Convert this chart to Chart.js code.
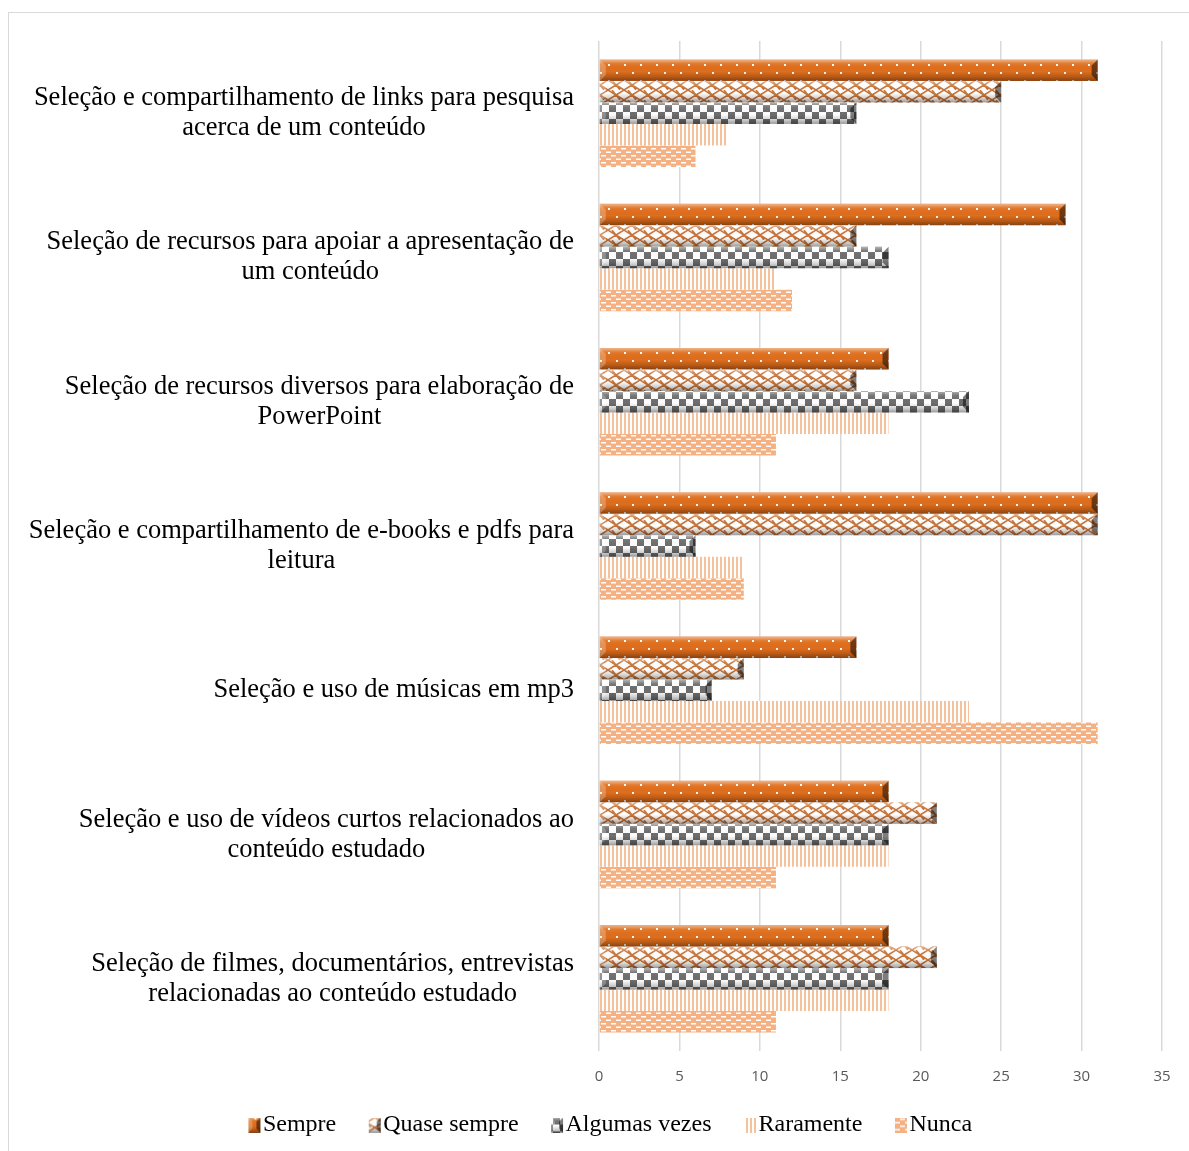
<!DOCTYPE html>
<html>
<head>
<meta charset="utf-8">
<script src="https://cdn.jsdelivr.net/npm/chart.js@4"></script>
<style>
    html, body { margin: 0; padding: 0; background: #fff; }
    #wrap { position: relative; width: 1189px; height: 1151px; }
    #frame { position: absolute; left: 8px; top: 12px; width: 1200px; height: 1200px; border: 1px solid #d9d9d9; box-sizing: border-box; }
    #chart { position: absolute; left: 0; top: 0; }
</style>
</head>
<body>
<div id="wrap">
    <div id="frame"></div>
    <canvas id="chart" width="1189" height="1151"></canvas>
</div>
<script>
// Categorias (linhas já quebradas como no gráfico)
const categorias = [
    ['Seleção e compartilhamento de links para pesquisa', 'acerca de um conteúdo'],
    ['Seleção de recursos para apoiar a apresentação de', 'um conteúdo'],
    ['Seleção de recursos diversos para elaboração de', 'PowerPoint'],
    ['Seleção e compartilhamento de e-books e pdfs para', 'leitura'],
    ['Seleção e uso de músicas em mp3'],
    ['Seleção e uso de vídeos curtos relacionados ao', 'conteúdo estudado'],
    ['Seleção de filmes, documentários, entrevistas', 'relacionadas ao conteúdo estudado']
];

const sempre        = [31, 29, 18, 31, 16, 18, 18];
const quaseSempre   = [25, 16, 16, 31, 9, 21, 21];
const algumasVezes  = [16, 18, 23, 6, 7, 18, 18];
const raramente     = [8, 11, 18, 9, 23, 18, 18];
const nunca         = [6, 12, 11, 9, 31, 11, 11];

const xTicks = [0, 5, 10, 15, 20, 25, 30, 35];

const serif = '"Liberation Serif", "Times New Roman", serif';

// Padrões de preenchimento
function makeTile(w, h, draw) {
    const c = document.createElement('canvas');
    c.width = w;
    c.height = h;
    draw(c.getContext('2d'), w, h);
    return c;
}

const ctx = document.getElementById('chart').getContext('2d');

const tiles = [
    makeTile(16, 16, (g, w, h) => {
        g.fillStyle = '#e06e1c';
        g.fillRect(0, 0, w, h);
        g.fillStyle = '#ffffff';
        g.fillRect(0, 0, 2, 2);
        g.fillRect(8, 8, 2, 2);
    }),
    makeTile(16, 10, (g, w, h) => {
        g.fillStyle = '#ffffff';
        g.fillRect(0, 0, w, h);
        g.strokeStyle = '#c8753a';
        g.lineWidth = 1.5;
        g.beginPath();
        g.moveTo(0, 0); g.lineTo(8, 5); g.lineTo(16, 0);
        g.moveTo(0, 10); g.lineTo(8, 5); g.lineTo(16, 10);
        g.moveTo(4, 0); g.lineTo(12, 10);
        g.stroke();
    }),
    makeTile(14, 14, (g, w, h) => {
        g.fillStyle = '#ffffff';
        g.fillRect(0, 0, w, h);
        g.fillStyle = '#6e6e6e';
        g.fillRect(0, 0, 7, 7);
        g.fillRect(7, 7, 7, 7);
    }),
    makeTile(4, 4, (g, w, h) => {
        g.fillStyle = '#ffffff';
        g.fillRect(0, 0, w, h);
        g.fillStyle = '#f6c29c';
        g.fillRect(0, 0, 2, h);
    }),
    makeTile(10, 7, (g, w, h) => {
        g.fillStyle = '#f4b183';
        g.fillRect(0, 0, w, h);
        g.fillStyle = '#ffffff';
        g.fillRect(1, 1, 5, 1.5);
        g.fillRect(6, 4.5, 5, 1.5);
        g.fillRect(-4, 4.5, 5, 1.5);
    })
];
const patterns = tiles.map(t => ctx.createPattern(t, 'repeat'));
const beveled = [true, true, true, false, false];

// Sombreado de relevo (faixa clara em cima, escura embaixo, pontas chanfradas)
function drawBevel(c, left, top, right, bot, e) {
    const grad = c.createLinearGradient(0, top, 0, bot);
    grad.addColorStop(0, 'rgba(255,255,255,0.5)');
    grad.addColorStop(0.2, 'rgba(255,255,255,0.08)');
    grad.addColorStop(0.55, 'rgba(0,0,0,0)');
    grad.addColorStop(0.8, 'rgba(0,0,0,0.18)');
    grad.addColorStop(1, 'rgba(0,0,0,0.4)');
    c.fillStyle = grad;
    c.fillRect(left, top, right - left, bot - top);
    c.fillStyle = 'rgba(0,0,0,0.5)';
    c.beginPath();
    c.moveTo(right - e, top + e);
    c.lineTo(right, top);
    c.lineTo(right, bot);
    c.lineTo(right - e, bot - e);
    c.closePath();
    c.fill();
    c.fillStyle = 'rgba(255,255,255,0.25)';
    c.beginPath();
    c.moveTo(left, top);
    c.lineTo(left + e, top + e);
    c.lineTo(left + e, bot - e);
    c.lineTo(left, bot);
    c.closePath();
    c.fill();
}

// Ícones da legenda (deslocados para a direita, colados ao texto)
const legendIcons = tiles.map((t, i) => makeTile(40, 15, (g) => {
    g.fillStyle = g.createPattern(t, 'repeat');
    g.fillRect(26, 0, 12, 15);
    if (beveled[i]) drawBevel(g, 26, 0, 38, 15, 4);
}));

const bevelPlugin = {
    id: 'bevel',
    afterDatasetsDraw(chart) {
        const c = chart.ctx;
        beveled.forEach((b, i) => {
            if (!b) return;
            chart.getDatasetMeta(i).data.forEach(bar => {
                const p = bar.getProps(['x', 'y', 'base', 'height'], true);
                c.save();
                drawBevel(c, Math.min(p.base, p.x), p.y - p.height / 2,
                    Math.max(p.base, p.x), p.y + p.height / 2, 6);
                c.restore();
            });
        });
    }
};

// Rótulos das categorias centrados em bloco
const catLabels = {
    id: 'catLabels',
    afterDraw(chart) {
        const c = chart.ctx;
        const yScale = chart.scales.y;
        const rightEdge = 574;
        const lineH = 30;
        c.save();
        c.font = '26.5px ' + serif;
        c.fillStyle = '#000';
        c.textBaseline = 'middle';
        c.textAlign = 'center';
        categorias.forEach((lines, i) => {
            const yc = yScale.getPixelForValue(i);
            const widest = Math.max(...lines.map(l => c.measureText(l).width));
            const cx = rightEdge - widest / 2;
            const y0 = yc - (lines.length - 1) * lineH / 2;
            lines.forEach((l, k) => c.fillText(l, cx, y0 + k * lineH));
        });
        c.restore();
    }
};

const nomes = ['Sempre', 'Quase sempre', 'Algumas vezes', 'Raramente', 'Nunca'];
const series = [sempre, quaseSempre, algumasVezes, raramente, nunca];

new Chart(ctx, {
    type: 'bar',
    data: {
        labels: categorias.map(l => l.join(' ')),
        datasets: series.map((s, i) => ({
            label: nomes[i],
            data: s,
            backgroundColor: patterns[i]
        }))
    },
    options: {
        indexAxis: 'y',
        responsive: false,
        animation: false,
        datasets: {
            bar: { barPercentage: 1, categoryPercentage: 0.745 }
        },
        layout: { padding: { top: 41, right: 27, bottom: 4, left: 44 } },
        scales: {
            x: {
                min: 0,
                max: 35,
                afterBuildTicks(scale) {
                    scale.ticks = xTicks.map(v => ({ value: v }));
                },
                afterFit(scale) {
                    scale.height += 5;
                },
                grid: { color: '#d9d9d9', lineWidth: 1.5, drawTicks: true, tickLength: 13, tickColor: 'rgba(0,0,0,0)' },
                border: { display: false },
                ticks: {
                    padding: 4,
                    color: '#595959',
                    font: { family: '"Open Sans", "Liberation Sans", sans-serif', size: 15 }
                }
            },
            y: {
                grid: { display: false },
                border: { display: false },
                ticks: { display: false },
                afterFit(scale) {
                    scale.width = 555;
                }
            }
        },
        plugins: {
            legend: {
                position: 'bottom',
                labels: {
                    usePointStyle: true,
                    pointStyleWidth: 17,
                    boxHeight: 15,
                    padding: 18,
                    color: '#000',
                    font: { family: serif, size: 24 },
                    generateLabels(chart) {
                        const items = Chart.defaults.plugins.legend.labels.generateLabels(chart);
                        items.forEach(it => { it.pointStyle = legendIcons[it.datasetIndex]; });
                        return items;
                    }
                }
            },
            tooltip: { enabled: false }
        }
    },
    plugins: [bevelPlugin, catLabels]
});
</script>
</body>
</html>
